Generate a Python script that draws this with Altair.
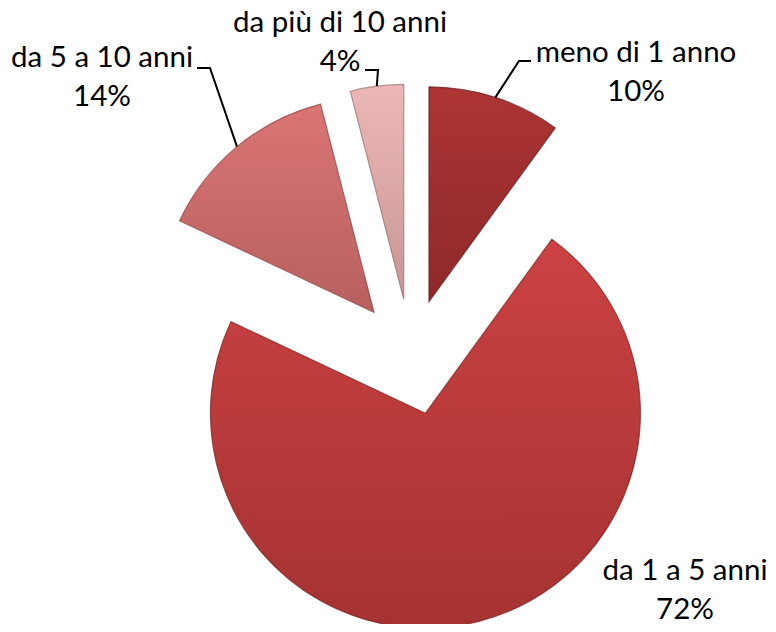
import math
import altair as alt
import pandas as pd

# ---- data ----
categories = ["meno di 1 anno", "da 1 a 5 anni", "da 5 a 10 anni", "da più di 10 anni"]
percentages = [10, 72, 14, 4]
pct_labels = ["10%", "72%", "14%", "4%"]

# ---- styles ----
top_colors = ["#AD3434", "#CC4242", "#DA7575", "#EBB7B7"]
bottom_colors = ["#8E2929", "#A53232", "#B85F5F", "#C99696"]
edge_colors = ["#6a1c1c", "#7a2222", "#8e4444", "#9a6e6e"]

# ---- layout (chart pixel space) ----
W, H = 760, 616
CX, CY = 403, 349      # pie centre
R = 215                # outer radius
EXPLODE = 58           # explode distance of every slice
LABEL_POS = {          # centre x, first-line baseline
    "meno di 1 anno": (628, 54),
    "da 1 a 5 anni": (677, 572),
    "da 5 a 10 anni": (94, 59),
    "da più di 10 anni": (332, 24),
}
LEADER_ELBOW = {       # label end point, elbow point
    "meno di 1 anno": [(523, 53), (511, 53)],
    "da 5 a 10 anni": [(189, 60), (202, 60)],
    "da più di 10 anni": [(357, 62), (370, 62)],
}

rows = []
cum = 0.0
for cat, v, lab in zip(categories, percentages, pct_labels):
    start, end = cum, cum + v
    mid = 2 * math.pi * (start + v / 2) / 100.0
    cx = CX + EXPLODE * math.sin(mid)
    cy = CY - EXPLODE * math.cos(mid)
    lx, ly = LABEL_POS[cat]
    rows.append(dict(cat=cat, value=v, start=start, end=end, cx=cx, cy=cy,
                     ax=cx + R * math.sin(mid), ay=cy - R * math.cos(mid),
                     lx=lx, ly=ly, text=f"{cat}\n{lab}"))
    cum = end
df = pd.DataFrame(rows)

lead_rows = []
for _, r in df.iterrows():
    if r["cat"] in LEADER_ELBOW:
        pts = LEADER_ELBOW[r["cat"]] + [(r["ax"], r["ay"])]
        for i, (px, py) in enumerate(pts):
            lead_rows.append(dict(cat=r["cat"], o=i, x=px, y=py))
lead = pd.DataFrame(lead_rows)

xs = alt.Scale(domain=[0, W], range=[0, W], nice=False, zero=False)
ys = alt.Scale(domain=[0, H], range=[0, H], nice=False, zero=False)
ts = alt.Scale(domain=[0, 100], range=[0, 2 * math.pi])

layers = []
for cat, c_top, c_bot, c_edge in zip(categories, top_colors, bottom_colors, edge_colors):
    grad = alt.Gradient(
        gradient="linear", x1=0, y1=0, x2=0, y2=1,
        stops=[alt.GradientStop(color=c_top, offset=0),
               alt.GradientStop(color=c_bot, offset=1)],
    )
    layers.append(
        alt.Chart(df).transform_filter(alt.datum.cat == cat).mark_arc(
            outerRadius=R, color=grad, stroke=c_edge, strokeWidth=1.2, strokeOpacity=0.7,
        ).encode(
            theta=alt.Theta("start:Q", scale=ts, stack=False),
            theta2="end:Q",
            x=alt.X("cx:Q", scale=xs, axis=None),
            y=alt.Y("cy:Q", scale=ys, axis=None),
        )
    )

leaders = alt.Chart(lead).mark_line(color="black", strokeWidth=2).encode(
    x=alt.X("x:Q", scale=xs, axis=None),
    y=alt.Y("y:Q", scale=ys, axis=None),
    detail="cat:N",
    order="o:Q",
)

labels = alt.Chart(df).mark_text(
    lineBreak="\n", lineHeight=39, align="center", baseline="alphabetic",
    font="Lato", fontSize=29.5, color="black",
).encode(
    x=alt.X("lx:Q", scale=xs, axis=None),
    y=alt.Y("ly:Q", scale=ys, axis=None),
    text="text:N",
)

chart = alt.layer(*layers, leaders, labels).properties(
    width=W, height=H, autosize=alt.AutoSizeParams(type="none"), padding=0,
).configure_view(stroke=None)

chart.save("out.html", embed_options={"renderer": "svg", "actions": False})
